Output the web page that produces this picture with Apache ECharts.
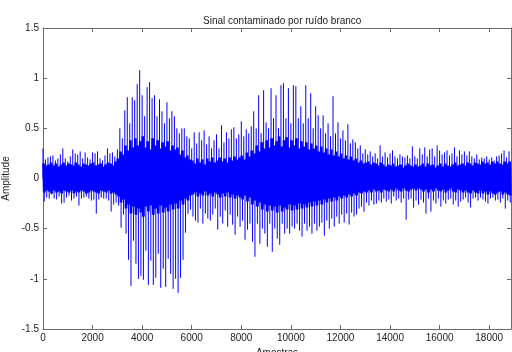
<!DOCTYPE html>
<html>
<head>
<meta charset="utf-8">
<script src="https://cdn.jsdelivr.net/npm/echarts@6/dist/echarts.min.js"></script>
<style>
  html, body { margin: 0; padding: 0; background: #fff; }
  #sinal { width: 512px; height: 352px; }
</style>
</head>
<body>
<div id="sinal"></div>
<script>
// one value per block of 100 samples
var passo = 100;
var xMax = 18880;
var xTicks = [0, 2000, 4000, 6000, 8000, 10000, 12000, 14000, 16000, 18000];
var yTicks = [-1.5, -1, -0.5, 0, 0.5, 1, 1.5];

// spike peaks (positive / negative)
var picoSup = [
  0.30,0.19,0.21,0.22,0.23,0.18,0.20,0.24,0.30,0.20,
  0.17,0.22,0.29,0.25,0.24,0.27,0.20,0.26,0.21,0.19,
  0.26,0.25,0.27,0.20,0.18,0.23,0.30,0.25,0.26,0.22,
  0.29,0.50,0.40,0.68,0.81,0.55,0.81,0.78,0.94,1.08,
  0.83,0.62,0.91,0.96,0.80,0.83,0.62,0.79,0.67,0.55,
  0.76,0.60,0.67,0.62,0.50,0.45,0.50,0.50,0.42,0.40,
  0.30,0.46,0.35,0.46,0.38,0.48,0.34,0.42,0.30,0.38,
  0.44,0.30,0.53,0.36,0.46,0.40,0.49,0.51,0.40,0.44,
  0.57,0.42,0.49,0.45,0.52,0.67,0.50,0.83,0.45,0.88,
  0.56,0.50,0.90,0.60,0.83,0.50,0.93,0.95,0.60,0.90,
  0.55,0.93,0.92,0.60,0.72,0.55,0.93,0.60,0.85,0.50,
  0.72,0.63,0.50,0.63,0.45,0.55,0.42,0.82,0.45,0.56,
  0.40,0.48,0.38,0.54,0.35,0.39,0.36,0.30,0.33,0.25,
  0.29,0.24,0.27,0.22,0.25,0.20,0.33,0.22,0.26,0.21,
  0.25,0.28,0.22,0.20,0.24,0.22,0.21,0.23,0.20,0.32,
  0.22,0.20,0.30,0.24,0.31,0.22,0.29,0.30,0.22,0.33,
  0.28,0.24,0.26,0.28,0.23,0.25,0.31,0.22,0.28,0.24,
  0.27,0.23,0.27,0.22,0.20,0.24,0.19,0.21,0.20,0.22,
  0.19,0.21,0.18,0.22,0.23,0.25,0.28,0.21,0.27
];
var picoInf = [
  -0.23,-0.19,-0.20,-0.16,-0.20,-0.21,-0.18,-0.25,-0.24,-0.19,
  -0.17,-0.22,-0.20,-0.18,-0.27,-0.20,-0.19,-0.18,-0.20,-0.22,
  -0.21,-0.35,-0.21,-0.19,-0.20,-0.20,-0.22,-0.33,-0.26,-0.24,
  -0.27,-0.49,-0.36,-0.55,-0.81,-1.07,-0.62,-0.85,-1.00,-0.97,
  -1.01,-0.72,-1.06,-0.82,-1.06,-0.99,-0.75,-1.09,-0.90,-1.08,
  -0.80,-0.95,-1.10,-1.00,-1.14,-0.99,-0.81,-0.54,-0.35,-0.31,
  -0.38,-0.42,-0.44,-0.30,-0.45,-0.35,-0.40,-0.42,-0.36,-0.30,
  -0.51,-0.38,-0.45,-0.32,-0.48,-0.36,-0.46,-0.56,-0.38,-0.48,
  -0.42,-0.61,-0.51,-0.45,-0.63,-0.78,-0.45,-0.65,-0.50,-0.55,
  -0.68,-0.45,-0.73,-0.50,-0.60,-0.66,-0.45,-0.55,-0.50,-0.55,
  -0.48,-0.50,-0.45,-0.52,-0.58,-0.45,-0.52,-0.48,-0.55,-0.45,
  -0.52,-0.48,-0.44,-0.57,-0.42,-0.50,-0.40,-0.48,-0.38,-0.45,
  -0.36,-0.44,-0.35,-0.46,-0.34,-0.38,-0.36,-0.30,-0.28,-0.33,
  -0.24,-0.27,-0.22,-0.26,-0.25,-0.22,-0.24,-0.20,-0.23,-0.21,
  -0.25,-0.18,-0.22,-0.20,-0.24,-0.20,-0.41,-0.21,-0.20,-0.29,
  -0.22,-0.26,-0.21,-0.24,-0.35,-0.20,-0.33,-0.22,-0.25,-0.20,
  -0.28,-0.22,-0.25,-0.21,-0.20,-0.26,-0.22,-0.28,-0.23,-0.21,
  -0.19,-0.24,-0.29,-0.20,-0.19,-0.22,-0.19,-0.21,-0.23,-0.25,
  -0.20,-0.19,-0.22,-0.21,-0.24,-0.20,-0.30,-0.22,-0.24
];

// dense noise band (upper / lower edge)
var nucleoSup = [
  0.15,0.13,0.14,0.16,0.13,0.15,0.12,0.14,0.16,0.13,
  0.15,0.14,0.13,0.16,0.14,0.12,0.15,0.14,0.13,0.15,
  0.16,0.13,0.14,0.15,0.12,0.14,0.16,0.15,0.13,0.17,
  0.20,0.27,0.24,0.33,0.28,0.38,0.31,0.40,0.33,0.37,
  0.42,0.31,0.37,0.29,0.40,0.33,0.38,0.30,0.36,0.32,
  0.37,0.28,0.33,0.29,0.31,0.24,0.28,0.21,0.23,0.19,
  0.18,0.15,0.20,0.16,0.19,0.14,0.20,0.17,0.21,0.16,
  0.18,0.21,0.17,0.20,0.16,0.21,0.18,0.22,0.19,0.21,
  0.23,0.19,0.26,0.22,0.28,0.25,0.33,0.27,0.36,0.30,
  0.38,0.31,0.40,0.33,0.37,0.42,0.32,0.38,0.41,0.31,
  0.38,0.33,0.40,0.30,0.37,0.32,0.36,0.29,0.35,0.30,
  0.33,0.27,0.32,0.26,0.30,0.24,0.29,0.23,0.27,0.22,
  0.25,0.20,0.23,0.19,0.22,0.18,0.20,0.16,0.18,0.15,
  0.16,0.17,0.14,0.16,0.15,0.13,0.16,0.14,0.12,0.14,
  0.13,0.15,0.12,0.13,0.14,0.11,0.13,0.15,0.13,0.12,
  0.14,0.12,0.13,0.15,0.12,0.15,0.13,0.14,0.11,0.13,
  0.15,0.12,0.15,0.13,0.12,0.14,0.16,0.13,0.14,0.15,
  0.13,0.16,0.15,0.13,0.16,0.15,0.14,0.17,0.15,0.16,
  0.14,0.17,0.15,0.17,0.15,0.14,0.17,0.15,0.17
];
var nucleoInf = [
  -0.14,-0.12,-0.13,-0.15,-0.12,-0.14,-0.13,-0.15,-0.12,-0.13,
  -0.14,-0.12,-0.15,-0.13,-0.14,-0.12,-0.13,-0.15,-0.14,-0.12,
  -0.13,-0.14,-0.15,-0.12,-0.13,-0.14,-0.12,-0.15,-0.14,-0.16,
  -0.18,-0.24,-0.21,-0.30,-0.26,-0.35,-0.28,-0.36,-0.30,-0.34,
  -0.38,-0.28,-0.33,-0.27,-0.36,-0.30,-0.35,-0.27,-0.34,-0.29,
  -0.33,-0.26,-0.31,-0.25,-0.30,-0.22,-0.26,-0.20,-0.22,-0.17,
  -0.16,-0.14,-0.18,-0.15,-0.17,-0.13,-0.17,-0.15,-0.18,-0.14,
  -0.16,-0.19,-0.15,-0.18,-0.14,-0.19,-0.16,-0.20,-0.17,-0.19,
  -0.21,-0.17,-0.23,-0.19,-0.26,-0.22,-0.28,-0.24,-0.31,-0.26,
  -0.33,-0.27,-0.32,-0.28,-0.34,-0.27,-0.33,-0.29,-0.31,-0.26,
  -0.32,-0.27,-0.31,-0.25,-0.30,-0.26,-0.29,-0.24,-0.28,-0.23,
  -0.27,-0.22,-0.26,-0.21,-0.24,-0.20,-0.23,-0.19,-0.22,-0.18,
  -0.20,-0.17,-0.19,-0.16,-0.18,-0.15,-0.17,-0.14,-0.15,-0.13,
  -0.14,-0.12,-0.14,-0.11,-0.13,-0.12,-0.14,-0.11,-0.12,-0.13,
  -0.11,-0.13,-0.10,-0.12,-0.13,-0.10,-0.12,-0.13,-0.11,-0.10,
  -0.12,-0.10,-0.11,-0.13,-0.11,-0.14,-0.11,-0.13,-0.10,-0.12,
  -0.13,-0.11,-0.14,-0.12,-0.10,-0.13,-0.14,-0.11,-0.12,-0.14,
  -0.12,-0.14,-0.15,-0.12,-0.14,-0.15,-0.12,-0.15,-0.13,-0.16,
  -0.13,-0.15,-0.16,-0.14,-0.13,-0.16,-0.14,-0.16,-0.17
];

// zigzag for the dense band, vertical strokes for the spikes
var nucleo = [];
var picos = [];
for (var i = 0; i < picoSup.length; i++) {
  var x = i * passo;
  var q = passo / 4;
  nucleo.push([x, nucleoSup[i]], [x + q, nucleoInf[i]], [x + 2 * q, nucleoSup[i]], [x + 3 * q, nucleoInf[i]]);
  picos.push([x, 0], [x, picoSup[i]], [x, '-']);
  picos.push([x + passo / 2, 0], [x + passo / 2, picoInf[i]], [x + passo / 2, '-']);
}

var fonte = "'Liberation Sans', Arial, sans-serif";
var corEixo = '#6b6b6b';
var corTexto = '#222';

function eixoBase(extra) {
  var base = {
    type: 'value',
    axisLine: { show: true, onZero: false, lineStyle: { color: corEixo, width: 1 } },
    axisTick: { show: true, inside: true, length: 4, lineStyle: { color: corEixo } },
    splitLine: { show: false },
    axisLabel: { show: false }
  };
  for (var k in extra) base[k] = extra[k];
  return base;
}

var myChart = echarts.init(document.getElementById('sinal'), null, { renderer: 'canvas' });
myChart.setOption({
  animation: false,
  backgroundColor: '#fff',
  title: {
    text: 'Sinal contaminado por ruído branco',
    left: 198,
    top: 11,
    textStyle: { fontFamily: fonte, fontSize: 10, fontWeight: 'normal', color: corTexto }
  },
  grid: { left: 43, right: 1, top: 28, bottom: 23, containLabel: false, outerBoundsMode: 'none' },
  xAxis: [
    eixoBase({
      min: 0, max: xMax, interval: 2000, position: 'bottom',
      name: 'Amostras', nameLocation: 'middle', nameGap: 19,
      nameTextStyle: { fontFamily: fonte, fontSize: 10, color: corTexto },
      axisLabel: {
        show: true, margin: 4, showMaxLabel: false,
        fontFamily: fonte, fontSize: 10, color: corTexto,
        formatter: function (v) { return xTicks.indexOf(v) >= 0 ? String(v) : ''; }
      }
    }),
    eixoBase({ min: 0, max: xMax, interval: 2000, position: 'top' })
  ],
  yAxis: [
    eixoBase({
      min: -1.5, max: 1.5, interval: 0.5, position: 'left',
      name: 'Amplitude', nameLocation: 'middle', nameGap: 27, nameRotate: 90,
      nameTextStyle: { fontFamily: fonte, fontSize: 10, color: corTexto },
      axisLabel: {
        show: true, margin: 4,
        fontFamily: fonte, fontSize: 10, color: corTexto,
        formatter: function (v) { return yTicks.indexOf(v) >= 0 ? String(v) : ''; }
      }
    }),
    eixoBase({ min: -1.5, max: 1.5, interval: 0.5, position: 'right' })
  ],
  series: [
    {
      name: 'ruído',
      type: 'line',
      data: nucleo,
      symbol: 'none',
      silent: true,
      lineStyle: { color: '#0000ff', width: 1.5 }
    },
    {
      name: 'picos',
      type: 'line',
      data: picos,
      symbol: 'none',
      silent: true,
      connectNulls: false,
      lineStyle: { color: '#0000ff', width: 1 }
    }
  ]
});
</script>
</body>
</html>
